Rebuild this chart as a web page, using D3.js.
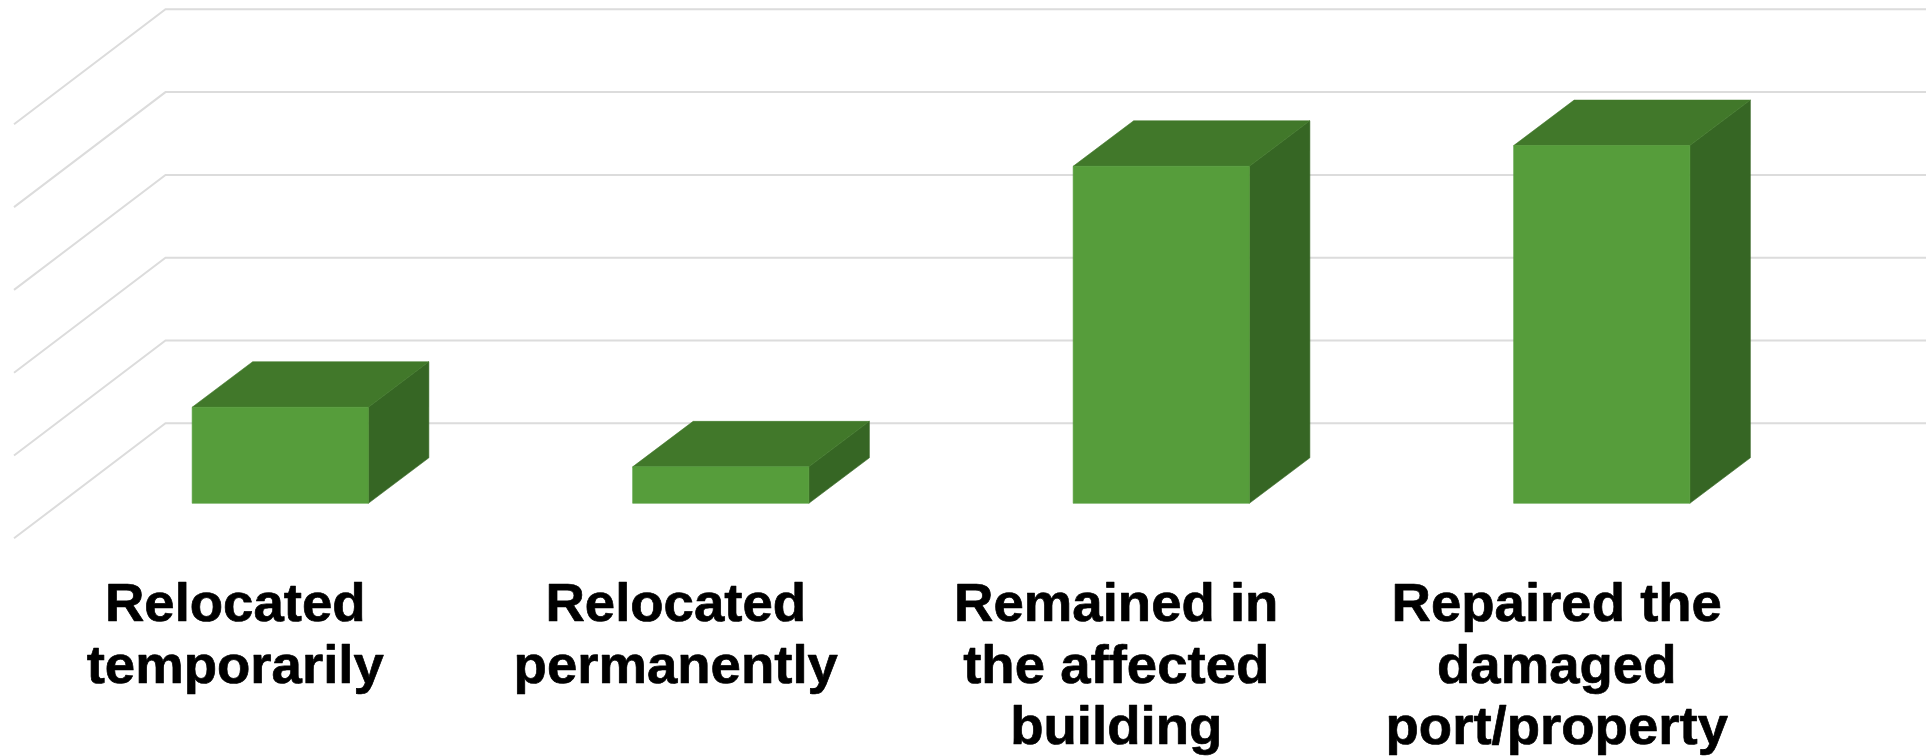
<!DOCTYPE html>
<html><head><meta charset="utf-8">
<style>html,body{margin:0;padding:0;background:#fff;overflow:hidden}svg{display:block}</style>
<script src="https://cdn.jsdelivr.net/npm/d3@7/dist/d3.min.js"></script>
</head><body>
<div id="chart"></div>
<script>
const categories = ["Relocated temporarily","Relocated permanently","Remained in the affected building","Repaired the damaged port/property"];
const categoryLines = [["Relocated","temporarily"],["Relocated","permanently"],["Remained in","the affected","building"],["Repaired the","damaged","port/property"]];
const values = [11.6, 4.4, 40.7, 43.2];
const gridTicks = [0,10,20,30,40,50];

const W=1926,H=756;
const svg=d3.select("#chart").append("svg").attr("width",W).attr("height",H);
const y=d3.scaleLinear().domain([0,50]).range([423.3,9.3]);
const x=d3.scaleBand().domain(categories).range([60,1822]).paddingInner(0.6).paddingOuter(0.3);
const floorOffset=80, depthX=60.5, depthY=45.5, wallX=165.5, frontX=14, wallDy=115;
const line=d3.line();

svg.append("g").selectAll("path").data(gridTicks).join("path")
  .attr("d",t=>line([[frontX,y(t)+wallDy],[wallX,y(t)],[W,y(t)]]))
  .attr("fill","none").attr("stroke","#dcdcdc").attr("stroke-width",2);

const bars=svg.append("g").selectAll("g").data(categories).join("g");
const geo=(c,i)=>{const l=x(c),r=l+x.bandwidth(),b=y(0)+floorOffset,t=y(values[i])+floorOffset;return{l,r,b,t};};
bars.append("path").attr("fill","#366624").attr("stroke","#366624").attr("stroke-width",0.6).attr("d",(c,i)=>{const g=geo(c,i);
  return line([[g.r,g.t],[g.r+depthX,g.t-depthY],[g.r+depthX,g.b-depthY],[g.r,g.b]])+"Z";});
bars.append("path").attr("fill","#41782a").attr("stroke","#41782a").attr("stroke-width",0.6).attr("d",(c,i)=>{const g=geo(c,i);
  return line([[g.l,g.t],[g.l+depthX,g.t-depthY],[g.r+depthX,g.t-depthY],[g.r,g.t]])+"Z";});
bars.append("path").attr("fill","#569d3b").attr("stroke","#569d3b").attr("stroke-width",0.6).attr("d",(c,i)=>{const g=geo(c,i);
  return line([[g.l,g.t],[g.r,g.t],[g.r,g.b],[g.l,g.b]])+"Z";});

const labels=svg.append("g").selectAll("text").data(categories).join("text")
  .attr("text-anchor","middle")
  .attr("transform",c=>`translate(${x(c)+x.bandwidth()/2-45},621) scale(1.02,1)`)
  .attr("font-family","'Liberation Sans',Arial,sans-serif").attr("font-weight","700")
  .attr("font-size",53.5).attr("fill","#000").attr("stroke","#000").attr("stroke-width",0.7).attr("stroke-linejoin","round");
labels.selectAll("tspan").data((c,i)=>categoryLines[i]).join("tspan")
  .attr("x",0).attr("y",(d,i)=>i*61.6).text(d=>d);
</script>
</body></html>
